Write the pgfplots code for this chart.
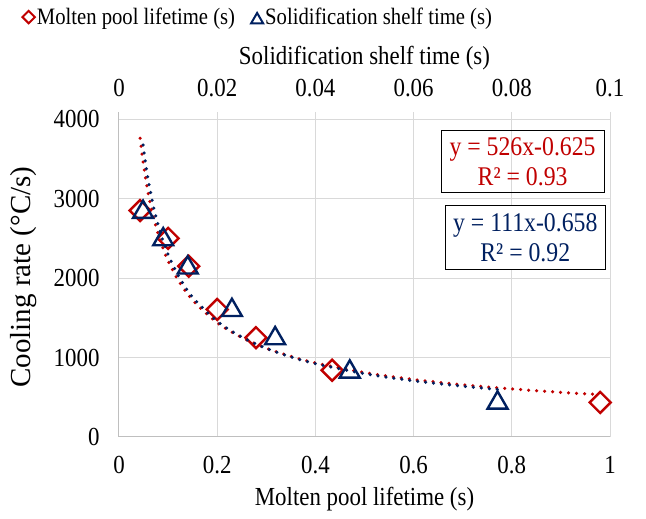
\documentclass[border=0pt]{standalone}
\usepackage{fontspec}
\setmainfont{Liberation Serif}[FakeStretch=0.88]
\newfontfamily\ylfont{Liberation Serif}
\usepackage{pgfplots}
\pgfplotsset{compat=1.18}
\definecolor{exred}{HTML}{C00000}
\definecolor{exblue}{HTML}{002060}
\definecolor{gridc}{HTML}{D9D9D9}
\definecolor{axc}{HTML}{BFBFBF}

\pgfplotsset{
  common/.style={
    at={(0,0)}, anchor=south west, scale only axis,
    width=491pt, height=325pt,
    ymin=0, ymax=4090,
    major tick length=0pt,
    tick label style={font=\fontsize{26}{30}\selectfont},
    label style={font=\fontsize{26}{30}\selectfont},
  },
  trend/.style={line width=3.5pt, line cap=round, dash pattern=on 0pt off 8pt, smooth, no marks},
}

\begin{document}
\begin{tikzpicture}
\useasboundingbox (-119pt,-82pt) rectangle (527pt,437pt);
% ---------- primary axis (Molten pool lifetime) ----------
\begin{axis}[common,
  xmin=0, xmax=1,
  xtick={0,0.2,0.4,0.6,0.8,1}, xticklabels={0,0.2,0.4,0.6,0.8,1},
  ytick={0,1000,2000,3000,4000}, yticklabels={0,1000,2000,3000,4000},
  xticklabel style={anchor=center, yshift=-28pt},
  yticklabel style={anchor=east, xshift=-16pt},
  grid=major, major grid style={gridc, line width=1pt},
  axis x line*=bottom, axis y line*=left,
  axis line style={axc, line width=1pt, -},
  xlabel={Molten pool lifetime (s)},
  xlabel style={at={(axis description cs:0.5,-0.1907)}, anchor=center},
  ylabel={Cooling rate (°C/s)},
  ylabel style={at={(axis description cs:-0.195,0.492)}, anchor=center, rotate=0, font=\ylfont\fontsize{29}{33}\selectfont},
]
\addplot[trend, exred] coordinates {
 (0.043,3759)(0.046,3604)(0.05,3421)(0.055,3223)(0.06,3052)(0.07,2772)(0.08,2550)
 (0.09,2369)(0.10,2218)(0.12,1979)(0.15,1722)(0.2,1438)(0.25,1251)(0.3,1116)
 (0.35,1014)(0.4,932)(0.5,811)(0.6,724)(0.7,657)(0.8,605)(0.9,562)(0.98,533)};
\addplot[only marks, mark=square, mark size=7.4pt, exred, line width=2.4pt,
  mark options={rotate=45, fill=none}] coordinates {
 (0.043,2850)(0.100,2500)(0.142,2150)(0.200,1605)(0.279,1250)(0.434,840)(0.980,435)};
\node[draw=black, line width=0.9pt, align=center, text=exred,
  font=\fontsize{27}{30}\selectfont, minimum width=163pt, minimum height=62pt, inner sep=2pt]
  at (rel axis cs:0.822,0.848) {y = 526x-0.625\\R² = 0.93};
\node[draw=black, line width=0.9pt, align=center, text=exblue,
  font=\fontsize{27}{30}\selectfont, minimum width=160pt, minimum height=64pt, inner sep=2pt, fill=white]
  at (rel axis cs:0.8275,0.614) {y = 111x-0.658\\R² = 0.92};
\end{axis}
% ---------- secondary axis (Solidification shelf time) ----------
\begin{axis}[common,
  xmin=0, xmax=0.1,
  axis x line*=top, hide y axis,
  x axis line style={draw=none},
  xtick={0,0.02,0.04,0.06,0.08,0.1}, xticklabels={0,0.02,0.04,0.06,0.08,0.1},
  xticklabel style={anchor=center, yshift=24pt},
  xlabel={Solidification shelf time (s)},
  xlabel style={at={(axis description cs:0.5,1.166)}, anchor=center},
  legend columns=2,
  legend style={draw=none, fill=none, at={(axis description cs:-0.197,1.292)}, anchor=west,
    font=\fontsize{23.5}{28}\selectfont, inner sep=0pt,
    /tikz/every even column/.append style={column sep=14pt}},
  legend cell align=left,
]
\addlegendimage{legend image code/.code={
  \draw[exred, line width=2pt] plot[mark=square, mark size=4.4pt, mark options={rotate=45}] coordinates {(0.2cm,0cm)};}}
\addlegendentry{Molten pool lifetime (s)}
\addlegendimage{legend image code/.code={
  \draw[exblue, line width=2pt] plot[mark=triangle, mark size=7pt] coordinates {(0.2cm,-0.1cm)};}}
\addlegendentry{Solidification shelf time (s)}
\addplot[trend, exblue, forget plot] coordinates {
 (0.0049,3674)(0.0055,3405)(0.006,3216)(0.007,2906)(0.008,2661)(0.009,2463)
 (0.01,2298)(0.012,2038)(0.015,1759)(0.02,1456)(0.025,1258)(0.03,1116)
 (0.035,1008)(0.04,923)(0.05,797)(0.06,707)(0.07,639)(0.0771,599)};
\addplot[only marks, mark=triangle, mark size=11.5pt, exblue, line width=2.4pt,
  mark options={fill=none}, forget plot] coordinates {
 (0.0049,2830)(0.0090,2485)(0.0140,2130)(0.0230,1595)(0.0318,1240)(0.0470,820)(0.0771,430)};
\end{axis}
\end{tikzpicture}
\end{document}
